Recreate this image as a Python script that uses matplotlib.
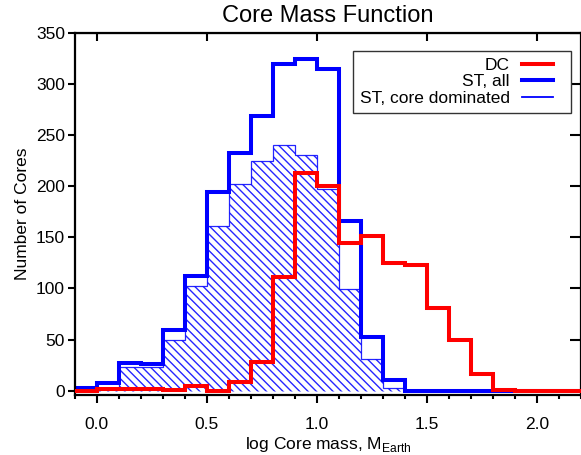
import numpy as np
import matplotlib
matplotlib.use("Agg")
import matplotlib.pyplot as plt
from matplotlib.lines import Line2D
from matplotlib.legend_handler import HandlerLine2D
from matplotlib.ticker import MultipleLocator

plt.rcParams['font.family'] = ['Liberation Sans', 'DejaVu Sans']

# bin edges in log core mass (M_Earth)
edges = np.round(np.arange(-0.1, 2.21, 0.1), 2)

# counts per bin
dc_counts = [0, 2, 2, 2, 1, 5, 0, 8, 28, 111, 213, 200, 144, 151, 125, 123,
             81, 50, 16, 1, 0, 0, 0]
st_all = [3, 7, 27, 26, 59, 112, 194, 233, 269, 320, 325, 315, 166, 52, 10,
          0, 0, 0, 0, 0, 0, 0, 0]
st_core = [1, 3, 23, 23, 50, 102, 161, 202, 225, 240, 231, 197, 99, 31, 3,
           0, 0, 0, 0, 0, 0, 0, 0]


class ShortLine(HandlerLine2D):
    # legend line that only fills the left part of the handle box
    def create_artists(self, legend, orig_handle, xdescent, ydescent,
                       width, height, fontsize, trans):
        arts = super().create_artists(legend, orig_handle, xdescent, ydescent,
                                      width, height, fontsize, trans)
        for a in arts:
            x = np.asarray(a.get_xdata(), dtype=float)
            if len(x) >= 2:
                a.set_xdata(np.linspace(x[0], x[0] + 0.74 * (x[-1] - x[0]), len(x)))
        return arts


fig = plt.figure(figsize=(5.81, 4.55), dpi=100)
ax = fig.add_axes([0.1286, 0.1325, 0.8714, 0.795])

# hatched "core dominated" histogram
ax.stairs(st_core, edges, fill=True, facecolor='none', edgecolor='#0000ff',
          hatch='\\\\\\\\', linewidth=0.9, alpha=0.85, zorder=1)
ax.stairs(st_all, edges, baseline=None, color='#0000ff', linewidth=2.9, zorder=2)
ax.stairs(dc_counts, edges, baseline=None, color='#ff0000', linewidth=2.9, zorder=3)

ax.set_xlim(-0.1, 2.2)
ax.set_ylim(-4, 350)

ax.xaxis.set_major_locator(MultipleLocator(0.5))
ax.xaxis.set_minor_locator(MultipleLocator(0.1))
ax.yaxis.set_major_locator(MultipleLocator(50))
ax.xaxis.set_major_formatter(matplotlib.ticker.FormatStrFormatter('%.1f'))

ax.tick_params(axis='x', which='major', direction='out', length=6, width=1.5,
               labelsize=12.5, pad=10)
ax.tick_params(axis='x', which='minor', direction='out', length=3, width=1.5)
ax.tick_params(axis='y', which='major', direction='out', length=5, width=1.5,
               labelsize=12.5, pad=2)
for sp in ax.spines.values():
    sp.set_linewidth(1.6)

# top and right ticks drawn inward, without labels
top = ax.secondary_xaxis('top')
top.set_xticks([0.0, 0.5, 1.0, 1.5, 2.0])
top.tick_params(direction='in', length=6, width=1.5, labeltop=False)
right = ax.secondary_yaxis('right')
right.set_yticks(np.arange(0, 351, 50))
right.tick_params(direction='in', length=8, width=1.5, labelright=False)

ax.set_title('Core Mass Function', fontsize=17, pad=8)
ax.set_xlabel(r'log Core mass, M$_{\mathregular{Earth}}$', fontsize=12.5, labelpad=2)
ax.set_ylabel('Number of Cores', fontsize=12.5, labelpad=4)

handles = [Line2D([], [], color='#ff0000', linewidth=2.9),
           Line2D([], [], color='#0000ff', linewidth=2.9),
           Line2D([], [], color='#0000ff', linewidth=1.3)]
labels = ['DC', 'ST, all', 'ST, core dominated']
leg = ax.legend(handles, labels, loc='upper right', bbox_to_anchor=(0.981, 0.951),
                markerfirst=False, fontsize=12.5, fancybox=False, framealpha=1,
                edgecolor='#333333', handlelength=2.45, handletextpad=0.7,
                labelspacing=0.08, borderpad=0.4, borderaxespad=0,
                handler_map={Line2D: ShortLine()})
leg.get_frame().set_linewidth(1.0)

fig.savefig('out.png', dpi=100)
